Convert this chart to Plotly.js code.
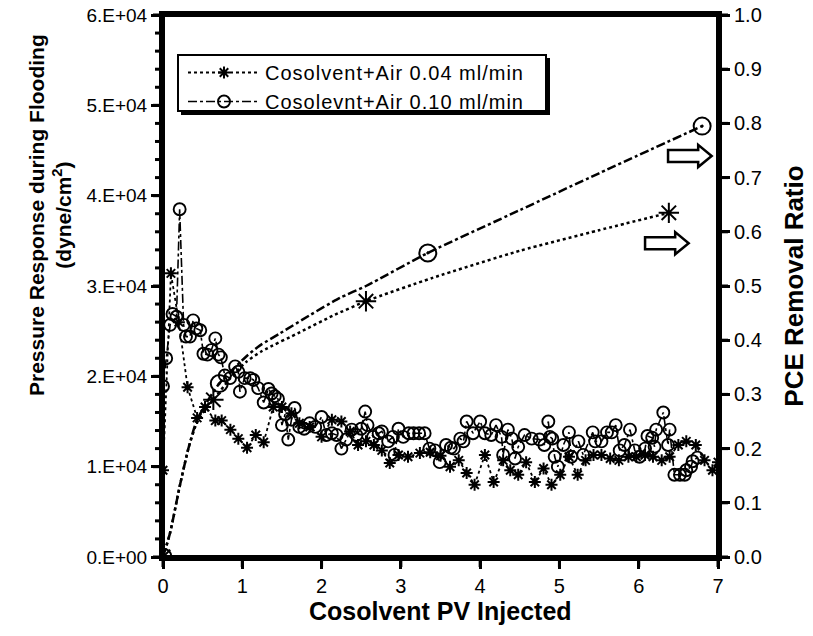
<!DOCTYPE html>
<html>
<head>
<meta charset="utf-8">
<script src="https://cdn.plot.ly/plotly-3.0.1.min.js"></script>
<style>
html,body{margin:0;padding:0;background:#fff;}
#chart{width:813px;height:636px;}
.legendtext{letter-spacing:1px;}
</style>
</head>
<body>
<div id="chart"></div>
<script>
// ---- Data ----
var seriesNames = ["Cosolvent+Air 0.04 ml/min", "Cosolevnt+Air 0.10 ml/min"];

// Pressure, 0.04 ml/min (left axis)
var p1X = [0,0.10,0.20,0.31,0.43,0.53,0.66,0.74,0.85,0.95,1.06,1.17,1.27,1.39,1.50,1.62,1.72,1.85,2.00,2.13,2.25,2.36,2.46,2.56,2.66,2.76,2.86,2.97,3.09,3.24,3.37,3.50,3.62,3.73,3.83,3.93,4.06,4.17,4.29,4.38,4.48,4.58,4.69,4.80,4.90,5.01,5.12,5.23,5.33,5.43,5.53,5.64,5.75,5.87,5.97,6.08,6.18,6.29,6.39,6.50,6.60,6.72,6.83,6.93,7.00];
var p1Y = [9600,31400,26000,18800,15400,16600,15100,15100,14100,13100,12100,13500,12700,16600,16600,15900,14800,14400,13300,15200,15000,13900,12400,12800,12400,11800,10400,11300,11100,11500,11600,11200,10000,10700,9300,8000,11300,8300,10700,9600,9100,10500,8300,9800,8000,9100,11100,9100,10700,11300,11300,10900,10700,11100,11100,11300,11100,10700,11100,12400,12800,12400,10700,9600,10500];

// Pressure, 0.10 ml/min (left axis)
var p2X = [0.00,0.04,0.09,0.12,0.17,0.21,0.26,0.29,0.34,0.38,0.42,0.47,0.51,0.56,0.61,0.66,0.70,0.73,0.78,0.845,0.91,0.95,0.97,1.03,1.10,1.14,1.20,1.27,1.33,1.37,1.41,1.45,1.50,1.54,1.58,1.62,1.66,1.72,1.78,1.85,1.92,2.00,2.06,2.13,2.19,2.25,2.31,2.38,2.44,2.50,2.55,2.58,2.65,2.72,2.76,2.84,2.90,2.92,2.97,3.03,3.10,3.16,3.23,3.30,3.36,3.43,3.49,3.57,3.63,3.67,3.75,3.79,3.83,3.91,4.00,4.06,4.14,4.20,4.27,4.29,4.35,4.40,4.44,4.48,4.56,4.65,4.75,4.81,4.86,4.88,4.91,4.94,4.98,5.05,5.12,5.15,5.24,5.30,5.42,5.45,5.53,5.60,5.66,5.71,5.76,5.82,5.89,5.95,6.01,6.08,6.11,6.17,6.20,6.22,6.31,6.37,6.39,6.45,6.52,6.58,6.60,6.66,6.68,6.74];
var p2Y = [18900,22000,25700,26900,26600,38500,25700,24400,24400,26200,25300,25100,22500,22400,22900,24200,22400,22100,20100,19800,21100,20500,18300,19800,19800,19600,18700,17100,18600,18100,17800,17500,14600,15800,13000,15200,16500,14400,14200,14800,14400,15500,13500,13700,13500,12000,13000,14100,13500,14200,16100,14600,13300,13700,13900,12800,13300,11300,14200,13300,13700,13700,13700,13700,12000,11800,10500,12400,12100,12000,13100,12800,15000,13700,15000,13700,13500,14600,13300,11300,14100,13100,10900,12200,13500,13100,13000,12400,15000,13300,13100,11100,10000,12400,13800,11100,12800,11300,13800,12800,12800,13800,13800,14600,11800,12400,14100,11800,11100,12000,13400,13200,12200,14100,16000,12400,14100,9100,9100,9100,9600,10000,10600,11000];

// PCE removal ratio (right axis): curve points and marked points
var r1X = [0,0.09,0.21,0.32,0.42,0.53,0.635,0.85,1.05,1.25,1.73,2.14,2.56,3.40,4.50,5.50,6.38];
var r1Y = [0,0.045,0.13,0.20,0.245,0.272,0.29,0.33,0.36,0.38,0.415,0.445,0.472,0.515,0.565,0.603,0.635];
var r1MarkX = [0,0.635,2.56,6.38];
var r1MarkY = [0,0.29,0.472,0.635];

var r2X = [0,0.09,0.21,0.32,0.42,0.53,0.71,1.05,1.22,1.48,1.85,2.23,2.56,3.34,4.50,5.50,6.80];
var r2Y = [0,0.045,0.13,0.20,0.25,0.28,0.32,0.37,0.39,0.413,0.446,0.478,0.50,0.561,0.64,0.708,0.795];
var r2MarkX = [0,0.71,3.34,6.80];
var r2MarkY = [0,0.32,0.561,0.795];

var xTicks = [0,1,2,3,4,5,6,7];
var xRange = [0,7];
var yTickVals = [0,10000,20000,30000,40000,50000,60000];
var yTickText = ["0.E+00","1.E+04","2.E+04","3.E+04","4.E+04","5.E+04","6.E+04"];
var yMinorVals = [2000,4000,6000,8000,12000,14000,16000,18000,22000,24000,26000,28000,32000,34000,36000,38000,42000,44000,46000,48000,52000,54000,56000,58000];
var yRange = [0,60000];
var y2TickVals = [0,0.1,0.2,0.3,0.4,0.5,0.6,0.7,0.8,0.9,1.0];
var y2TickText = ["0.0","0.1","0.2","0.3","0.4","0.5","0.6","0.7","0.8","0.9","1.0"];
var y2Range = [0,1];

// ---- Styling ----
var FONT = "Liberation Sans, Arial, sans-serif";
var K = "black";
var W = 813, H = 636, ML = 163, MR = 95, MT = 15, MB = 79;
var PW = W - ML - MR, PH = H - MT - MB;
var AXW = 4, TL = 8, TLM = 6, TW = 3;

var traces = [
  {x:p1X, y:p1Y, type:"scatter", mode:"lines+markers", name:seriesNames[0],
   line:{color:K, width:1.8, dash:"dot"},
   marker:{symbol:"asterisk-open", size:10, color:K, line:{color:K, width:2}}},
  {x:p2X, y:p2Y, type:"scatter", mode:"lines+markers", name:seriesNames[1],
   line:{color:K, width:1.6, dash:"dashdot"},
   marker:{symbol:"circle-open", size:12, color:K, line:{color:K, width:1.9}}},
  {x:r1X, y:r1Y, yaxis:"y2", type:"scatter", mode:"lines", showlegend:false,
   line:{color:K, width:2.5, dash:"dot", shape:"spline", smoothing:0.6}},
  {x:r2X, y:r2Y, yaxis:"y2", type:"scatter", mode:"lines", showlegend:false,
   line:{color:K, width:2.5, dash:"dashdot", shape:"spline", smoothing:0.6}},
  {x:r1MarkX, y:r1MarkY, yaxis:"y2", type:"scatter", mode:"markers", showlegend:false,
   marker:{symbol:"asterisk-open", size:17, color:K, line:{color:K, width:2}}},
  {x:r2MarkX, y:r2MarkY, yaxis:"y2", type:"scatter", mode:"markers", showlegend:false,
   marker:{symbol:"circle-open-dot", size:17, color:K, line:{color:K, width:2}}}
];

function arrowPath(x0, xb, xt, yc, hb, hh) {
  return "M" + x0 + "," + (yc - hb) + " L" + xb + "," + (yc - hb) + " L" + xb + "," + (yc - hh) +
         " L" + xt + "," + yc + " L" + xb + "," + (yc + hh) + " L" + xb + "," + (yc + hb) +
         " L" + x0 + "," + (yc + hb) + " Z";
}
function px2x(px){ return (px - ML) / PW; }
function px2y(py){ return (H - MB - py) / PH; }
function frac(v, r){ return (v - r[0]) / (r[1] - r[0]); }
function bar(x0, x1, y0, y1){
  return {type:"rect", xref:"paper", yref:"paper", layer:"above", x0:x0, x1:x1, y0:y0, y1:y1,
          fillcolor:K, line:{width:0}};
}

var shapes = [
  // legend drop shadow and box
  bar(px2x(181), px2x(550), px2y(115), px2y(58)),
  {type:"rect", xref:"paper", yref:"paper", layer:"above",
   x0:px2x(178), x1:px2x(546), y0:px2y(111), y1:px2y(55), fillcolor:"white", line:{color:K, width:2}},
  // arrows
  {type:"path", xref:"x", yref:"y2", path:arrowPath(6.37, 6.75, 6.92, 0.740, 0.011, 0.0205),
   fillcolor:"white", line:{color:K, width:2.5}},
  {type:"path", xref:"x", yref:"y2", path:arrowPath(6.08, 6.46, 6.63, 0.579, 0.011, 0.0205),
   fillcolor:"white", line:{color:K, width:2.5}}
];
// plot frame (filled bars)
var hx = AXW / 2 / PW, hy = AXW / 2 / PH;
shapes.push(bar(-hx, hx, -hy, 1 + hy));
shapes.push(bar(1 - hx, 1 + hx, -hy, 1 + hy));
shapes.push(bar(-hx, 1 + hx, -hy, hy));
shapes.push(bar(-hx, 1 + hx, 1 - hy, 1 + hy));
// tick marks at the axes' tick values (filled bars, outside the frame)
var tx = TW / 2 / PW, ty = TW / 2 / PH;
xTicks.forEach(function(v){
  var f = frac(v, xRange);
  shapes.push(bar(f - tx, f + tx, -(TL + AXW / 2) / PH, 0));
});
yTickVals.forEach(function(v){
  var f = frac(v, yRange);
  shapes.push(bar(-(TL + AXW / 2) / PW, 0, f - ty, f + ty));
});
yMinorVals.forEach(function(v){
  var f = frac(v, yRange);
  shapes.push(bar(-(TLM + AXW / 2) / PW, 0, f - ty, f + ty));
});
y2TickVals.forEach(function(v){
  var f = frac(v, y2Range);
  shapes.push(bar(1, 1 + (TL + AXW / 2) / PW, f - ty, f + ty));
});

var layout = {
  width:W, height:H,
  margin:{l:ML, r:MR, t:MT, b:MB},
  paper_bgcolor:"white", plot_bgcolor:"rgba(0,0,0,0)",
  font:{family:FONT, color:K, size:19},
  showlegend:true,
  legend:{x:px2x(183), y:px2y(87), xanchor:"left", yanchor:"middle",
    bgcolor:"rgba(0,0,0,0)", borderwidth:0, itemwidth:72,
    font:{family:FONT, size:20, color:K}, tracegroupgap:0},
  xaxis:{range:xRange, tickvals:xTicks, ticktext:xTicks.map(String),
    showline:true, linecolor:K, linewidth:AXW, mirror:true,
    ticks:"outside", ticklen:TL, tickwidth:TW, tickcolor:K,
    showgrid:false, zeroline:false,
    tickfont:{family:FONT, size:20, color:K}},
  yaxis:{range:yRange, tickmode:"array", tickvals:yTickVals, ticktext:yTickText,
    showline:true, linecolor:K, linewidth:AXW,
    ticks:"outside", ticklen:TL, tickwidth:TW, tickcolor:K,
    showgrid:false, zeroline:false,
    tickfont:{family:FONT, size:19, color:K}},
  yaxis2:{range:y2Range, overlaying:"y", side:"right", tickmode:"array", tickvals:y2TickVals, ticktext:y2TickText,
    showline:true, linecolor:K, linewidth:AXW,
    ticks:"outside", ticklen:TL, tickwidth:TW, tickcolor:K,
    showgrid:false, zeroline:false,
    tickfont:{family:FONT, size:20, color:K},
    title:{text:"PCE Removal Ratio", font:{family:FONT, size:26, weight:"bold", color:K}, standoff:25}},
  annotations:[
    {text:"Pressure Response during Flooding<br>(dyne/cm<sup>2</sup>)", xref:"paper", yref:"paper",
     x:px2x(50), y:px2y(215), xanchor:"center", yanchor:"middle", textangle:-90, showarrow:false,
     font:{family:FONT, size:21, weight:"bold", color:K}},
    {text:"Cosolvent PV Injected", xref:"paper", yref:"paper",
     x:0.5, y:px2y(611), xanchor:"center", yanchor:"middle", showarrow:false,
     font:{family:FONT, size:25, weight:"bold", color:K}}
  ],
  shapes:shapes
};

Plotly.newPlot("chart", traces, layout, {displayModeBar:false});
</script>
</body>
</html>
